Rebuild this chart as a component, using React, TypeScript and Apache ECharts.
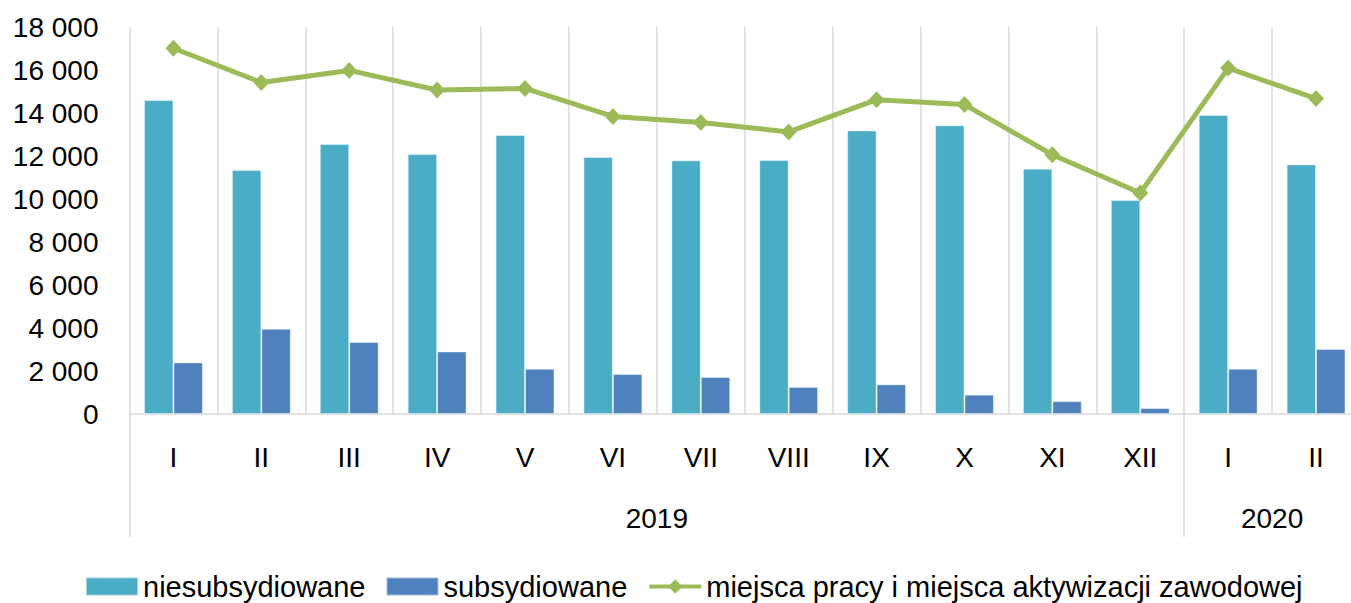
import React, { useEffect, useRef } from "react";
import * as echarts from "echarts";

const months = ["I", "II", "III", "IV", "V", "VI", "VII", "VIII", "IX", "X", "XI", "XII", "I", "II"];
const years = ["2019", "2020"];
const yearSpans = [12, 2];
const niesubsydiowane = [14600, 11350, 12560, 12090, 12980, 11950, 11800, 11810, 13190, 13430, 11410, 9950, 13910, 11610];
const subsydiowane = [2400, 3970, 3350, 2910, 2110, 1860, 1720, 1260, 1380, 900, 600, 280, 2110, 3020];
const miejsca = [17010, 15420, 15980, 15070, 15140, 13840, 13560, 13120, 14620, 14390, 12060, 10280, 16090, 14670];
const seriesNames = ["niesubsydiowane", "subsydiowane", "miejsca pracy i miejsca aktywizacji zawodowej"];

const FONT = "Liberation Sans";
const GRID_LINE = "#d9d9d9";

export default function App() {
  const ref = useRef<HTMLDivElement>(null);
  useEffect(() => {
    if (!ref.current) return;
    const chart = echarts.init(ref.current, undefined, { renderer: "svg" });

    const bounds: number[] = [0];
    const centers: number[] = [];
    let acc = 0;
    yearSpans.forEach((s) => {
      centers.push(acc + s / 2);
      acc += s;
      bounds.push(acc);
    });
    const total = acc;

    chart.setOption({
      animation: false,
      textStyle: { fontFamily: FONT },
      grid: { left: 129.5, top: 27, right: 0, height: 387, containLabel: false },
      legend: {
        left: 85,
        top: 572,
        padding: 0,
        itemWidth: 52,
        itemHeight: 18,
        itemGap: 20,
        textStyle: { fontFamily: FONT, fontSize: 29, color: "#000" },
        data: [
          { name: seriesNames[0], icon: "rect" },
          { name: seriesNames[1], icon: "rect" },
          { name: seriesNames[2], lineStyle: { width: 4 } },
        ],
      },
      xAxis: [
        {
          type: "category",
          data: months,
          position: "bottom",
          axisLine: { show: true, lineStyle: { color: GRID_LINE, width: 1.5 } },
          axisTick: { show: false },
          axisLabel: {
            interval: 0,
            fontFamily: FONT,
            fontSize: 28,
            color: "#000",
            margin: 43,
            verticalAlign: "middle",
          },
          splitLine: { show: true, interval: 0, lineStyle: { color: GRID_LINE, width: 1.5 } },
        },
        {
          type: "value",
          min: 0,
          max: total,
          interval: 1,
          position: "bottom",
          offset: 0,
          axisLine: { show: false },
          splitLine: { show: false },
          axisTick: {
            show: true,
            length: 123,
            customValues: bounds,
            lineStyle: { color: GRID_LINE, width: 1.5 },
          },
          axisLabel: {
            show: true,
            customValues: centers,
            fontFamily: FONT,
            fontSize: 28,
            color: "#000",
            margin: 104,
            verticalAlign: "middle",
            formatter: (v: number) => {
              const i = centers.findIndex((c) => Math.abs(c - v) < 1e-6);
              return i >= 0 ? years[i] : "";
            },
          },
        },
      ],
      yAxis: {
        type: "value",
        min: 0,
        max: 18000,
        interval: 2000,
        axisLine: { show: false },
        axisTick: { show: false },
        splitLine: { show: false },
        axisLabel: {
          fontFamily: FONT,
          fontSize: 28,
          color: "#000",
          margin: 31,
          formatter: (v: number) => String(v).replace(/\B(?=(\d{3})+(?!\d))/g, " "),
        },
      },
      series: [
        {
          name: seriesNames[0],
          type: "bar",
          data: niesubsydiowane,
          barGap: "0%",
          barCategoryGap: "33%",
          itemStyle: { color: "#4BACC6", borderColor: "rgba(255,255,255,0.45)", borderWidth: 1 },
        },
        {
          name: seriesNames[1],
          type: "bar",
          data: subsydiowane,
          barGap: "0%",
          barCategoryGap: "33%",
          itemStyle: { color: "#4F81BD", borderColor: "rgba(255,255,255,0.45)", borderWidth: 1 },
        },
        {
          name: seriesNames[2],
          type: "line",
          data: miejsca,
          symbol: "diamond",
          symbolSize: [16, 17],
          lineStyle: { color: "#9BBB59", width: 5 },
          itemStyle: { color: "#9BBB59" },
        },
      ],
    });
    return () => chart.dispose();
  }, []);
  return (
    <div
      style={{
        position: "absolute",
        left: 0,
        top: 0,
        width: 1351,
        height: 603,
        overflow: "hidden",
        background: "#fff",
      }}
    >
      <div ref={ref} style={{ position: "absolute", left: 0, top: 0, width: 1360, height: 603 }} />
    </div>
  );
}
